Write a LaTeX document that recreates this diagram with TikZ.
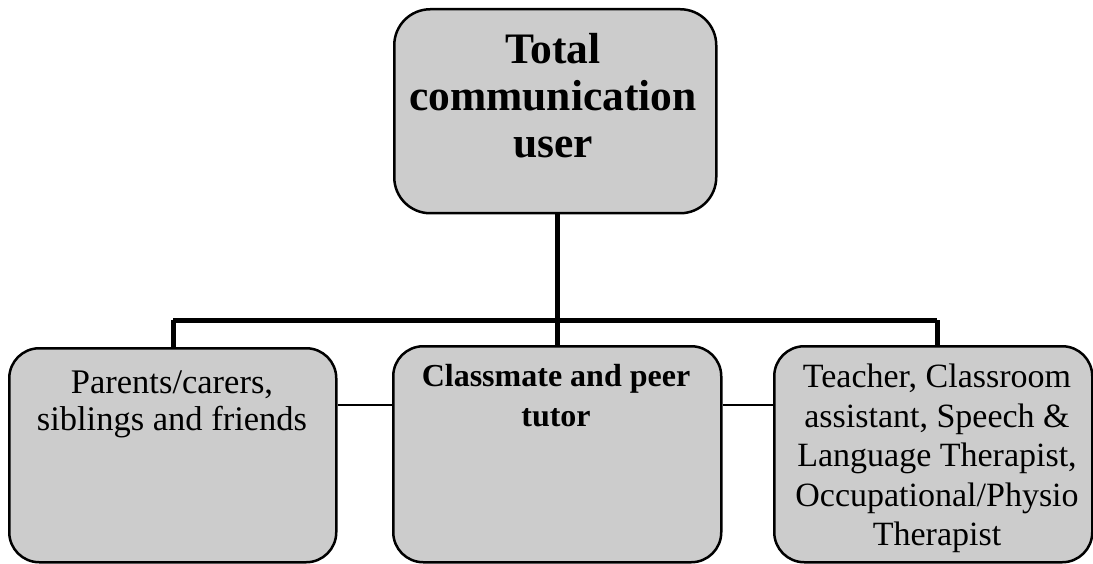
\documentclass[tikz,border=0pt]{standalone}
\usepackage{fontspec}
\setmainfont{Liberation Serif}
\begin{document}
\begin{tikzpicture}[x=1pt,y=-1pt,
  box/.style={draw, line width=2.5pt, fill=black!20, anchor=north west, inner sep=0pt},
  topbox/.style={box, rounded corners=36pt},
  lowbox/.style={box, rounded corners=30pt},
  boxtext/.style={align=center, anchor=north, inner sep=0pt},
  thickline/.style={line width=5pt},
  thinline/.style={line width=2pt}]
\useasboundingbox (0,0) rectangle (1093,564);
% boxes
\node[topbox, minimum width=322pt, minimum height=204pt] (top) at (393,8) {};
\node[lowbox, minimum width=327pt, minimum height=214pt] (left) at (8,347) {};
\node[lowbox, minimum width=328pt, minimum height=216pt] (mid) at (392,345) {};
\node[lowbox, minimum width=318pt, minimum height=216pt] (right) at (773,345) {};
% texts
\node[boxtext, font=\bfseries\fontsize{43.5}{47}\selectfont] (toptext) at (553,33)
  {Total\\communication\\user};
\node[boxtext, font=\fontsize{34.5}{37}\selectfont] (lefttext) at (172,371)
  {Parents/carers,\\siblings and friends};
\node[boxtext, font=\bfseries\fontsize{32}{40}\selectfont] (midtext) at (556,364)
  {Classmate and peer\\tutor};
\node[boxtext, font=\fontsize{34}{39.5}\selectfont] (righttext) at (937,364)
  {Teacher, Classroom\\assistant, Speech \&\\Language Therapist,\\Occupational/Physio\\Therapist};
% connectors
\coordinate (hub) at (557,320);
\coordinate (hl) at (173,320);
\coordinate (hr) at (937,320);
\draw[thickline] (top.south -| hub) -- (hub);
\draw[thickline] (hl) -- (hr);
\draw[thickline] (hl) -- (hl |- left.north);
\draw[thickline] (hub) -- (hub |- mid.north);
\draw[thickline] (hr) -- (hr |- right.north);
\draw[thinline] (left.east |- 0,405) -- (mid.west |- 0,405);
\draw[thinline] (mid.east |- 0,405) -- (right.west |- 0,405);
\end{tikzpicture}
\end{document}
